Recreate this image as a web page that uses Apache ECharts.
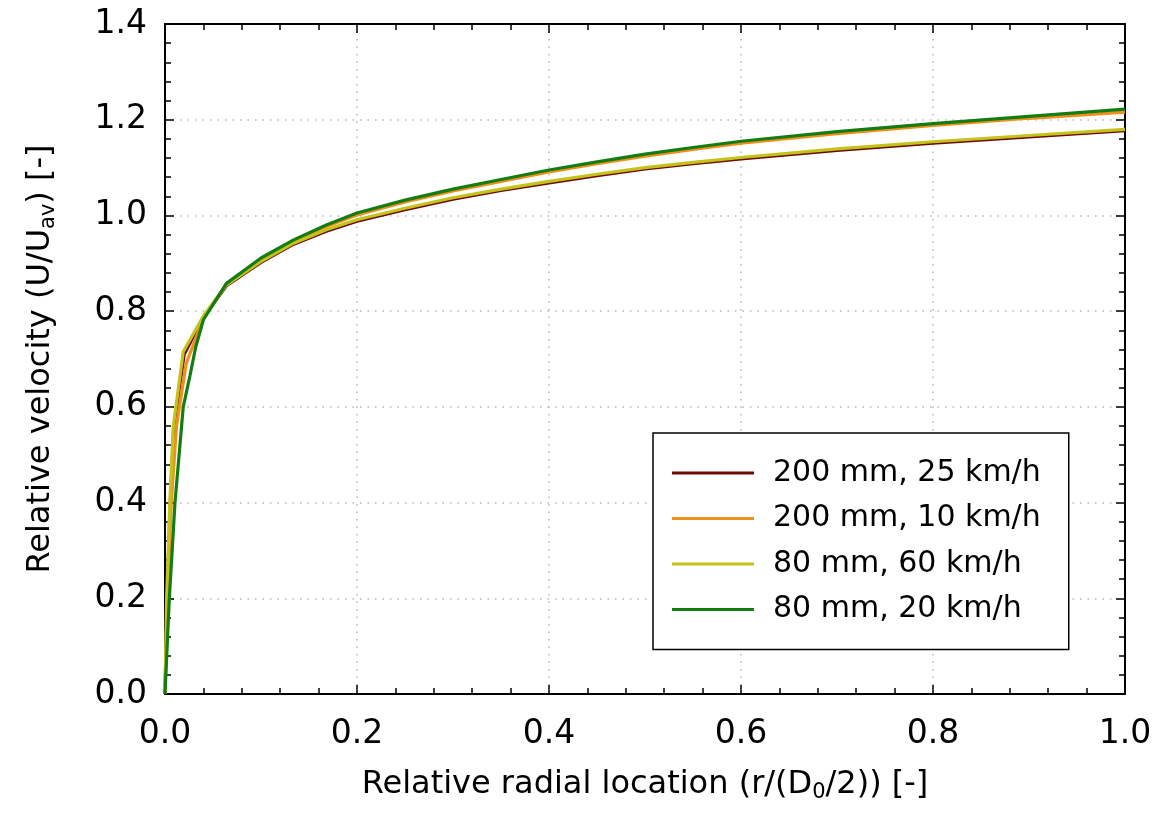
<!DOCTYPE html>
<html>
<head>
<meta charset="utf-8">
<script src="https://cdn.jsdelivr.net/npm/echarts@6/dist/echarts.min.js"></script>
<style>html,body{margin:0;padding:0;background:#fff;}#c{width:1163px;height:822px;}</style>
</head>
<body>
<div id="c"></div>
<script>
// Series names
const seriesNames = ['200 mm, 25 km/h', '200 mm, 10 km/h', '80 mm, 60 km/h', '80 mm, 20 km/h'];
// x positions (relative radial location) and y values (relative velocity) per series
const xDarkRed = [0, 0.002, 0.0055, 0.009, 0.02, 0.04, 0.064, 0.1, 0.134, 0.168, 0.2, 0.25, 0.3, 0.35, 0.4, 0.45, 0.5, 0.55, 0.6, 0.7, 0.8, 0.9, 1.0];
const yDarkRed = [0, 0.2, 0.4, 0.555, 0.71, 0.787, 0.853, 0.902, 0.94, 0.967, 0.988, 1.012, 1.034, 1.052, 1.068, 1.083, 1.097, 1.108, 1.118, 1.136, 1.151, 1.164, 1.177];
const xOrange = [0, 0.0025, 0.0065, 0.012, 0.022, 0.04, 0.064, 0.1, 0.134, 0.168, 0.2, 0.25, 0.3, 0.35, 0.4, 0.45, 0.5, 0.55, 0.6, 0.7, 0.8, 0.9, 1.0];
const yOrange = [0, 0.2, 0.4, 0.56, 0.69, 0.785, 0.856, 0.909, 0.946, 0.977, 1.001, 1.028, 1.051, 1.071, 1.091, 1.108, 1.124, 1.138, 1.151, 1.171, 1.188, 1.203, 1.216];
const xYellow = [0, 0.0017, 0.005, 0.0087, 0.019, 0.04, 0.064, 0.1, 0.134, 0.168, 0.2, 0.25, 0.3, 0.35, 0.4, 0.45, 0.5, 0.55, 0.6, 0.7, 0.8, 0.9, 1.0];
const yYellow = [0, 0.2, 0.4, 0.56, 0.715, 0.79, 0.855, 0.904, 0.942, 0.97, 0.991, 1.015, 1.037, 1.055, 1.071, 1.086, 1.1, 1.111, 1.121, 1.139, 1.154, 1.167, 1.18];
const xGreen = [0, 0.0045, 0.0104, 0.019, 0.026, 0.032, 0.04, 0.064, 0.1, 0.134, 0.168, 0.2, 0.25, 0.3, 0.35, 0.4, 0.45, 0.5, 0.55, 0.6, 0.7, 0.8, 0.9, 1.0];
const yGreen = [0, 0.2, 0.4, 0.6, 0.665, 0.725, 0.782, 0.858, 0.911, 0.949, 0.98, 1.005, 1.032, 1.055, 1.075, 1.095, 1.112, 1.128, 1.142, 1.155, 1.175, 1.192, 1.207, 1.222];
const xTicks = [0, 0.2, 0.4, 0.6, 0.8, 1.0];
const yTicks = [0, 0.2, 0.4, 0.6, 0.8, 1.0, 1.2, 1.4];

const colors = ['#6e0a0a', '#f0901a', '#c3c31a', '#137d13'];
const FONT = 'DejaVu Sans, Liberation Sans, sans-serif';
const zip = (xs, ys) => xs.map((x, i) => [x, ys[i]]);
const seriesData = [zip(xDarkRed, yDarkRed), zip(xOrange, yOrange), zip(xYellow, yYellow), zip(xGreen, yGreen)];

const chart = echarts.init(document.getElementById('c'), null, {renderer: 'canvas'});
const fmt = v => v.toFixed(1);
const baseTick = {show: true, inside: true, length: 9, lineStyle: {color: '#000', width: 1.5}};
const baseMinor = {show: true, splitNumber: 5, length: 6, lineStyle: {color: '#000', width: 1.5}};
const split = {show: true, lineStyle: {color: '#b8b8b8', width: 1.5, type: [1.5, 6]}};
const axLine = {show: true, onZero: false, lineStyle: {color: '#000', width: 2}};
const subRich = {sub: {fontFamily: FONT, fontSize: 21, verticalAlign: 'bottom', padding: [16, 0, 0, 0], color: '#000'}};

chart.setOption({
  animation: false,
  backgroundColor: '#fff',
  grid: {left: 165, right: 38, top: 24, bottom: 128, containLabel: false},
  legend: {
    orient: 'vertical', left: 653, top: 433,
    padding: [22, 28, 22, 19],
    backgroundColor: '#fff', borderColor: '#000', borderWidth: 1.5, borderRadius: 0,
    itemWidth: 82, itemHeight: 3, itemGap: 9.5, icon: 'rect',
    textStyle: {fontFamily: FONT, fontSize: 30, color: '#000', lineHeight: 36, padding: [0, 0, 0, 14]},
    data: seriesNames
  },
  xAxis: [{
    type: 'value', min: 0, max: 1, interval: 0.2, position: 'bottom',
    name: 'Relative radial location (r/(D{sub|0}/2)) [-]', nameLocation: 'middle', nameGap: 72,
    nameTextStyle: {fontFamily: FONT, fontSize: 32, color: '#000', rich: subRich},
    axisLine: axLine, axisTick: baseTick, minorTick: baseMinor, splitLine: split,
    axisLabel: {fontFamily: FONT, fontSize: 33, color: '#000', margin: 24, formatter: fmt,
      customValues: xTicks}
  }, {
    type: 'value', min: 0, max: 1, interval: 0.2, position: 'top',
    axisLine: axLine, axisTick: baseTick, minorTick: baseMinor, splitLine: {show: false},
    axisLabel: {show: false}
  }],
  yAxis: [{
    type: 'value', min: 0, max: 1.4, interval: 0.2, position: 'left',
    name: 'Relative velocity (U/U{sub|av}) [-]', nameLocation: 'middle', nameGap: 106, nameRotate: 90,
    nameTextStyle: {fontFamily: FONT, fontSize: 32, color: '#000', rich: subRich},
    axisLine: axLine, axisTick: baseTick, minorTick: baseMinor, splitLine: split,
    axisLabel: {fontFamily: FONT, fontSize: 33, color: '#000', margin: 18, formatter: fmt,
      customValues: yTicks}
  }, {
    type: 'value', min: 0, max: 1.4, interval: 0.2, position: 'right',
    axisLine: axLine, axisTick: baseTick, minorTick: baseMinor, splitLine: {show: false},
    axisLabel: {show: false}
  }],
  series: seriesNames.map((n, i) => ({
    name: n, type: 'line', data: seriesData[i], xAxisIndex: 0, yAxisIndex: 0,
    showSymbol: false, symbol: 'none', smooth: false,
    lineStyle: {color: colors[i], width: 3.2}, itemStyle: {color: colors[i]}, z: 2 + i
  }))
});
</script>
</body>
</html>
